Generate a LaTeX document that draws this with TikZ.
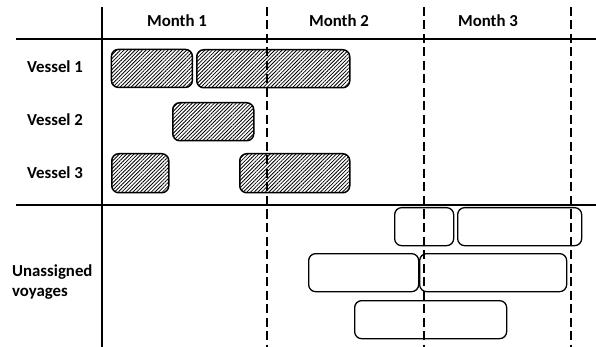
\documentclass[tikz,border=0pt]{standalone}
\usepackage{fontspec}
\setmainfont{Carlito}
\usetikzlibrary{patterns.meta}
\begin{document}
\begin{tikzpicture}[x=1pt,y=-1pt,
  lbl/.style={font=\fontsize{16.8}{19}\selectfont\bfseries, inner sep=0pt},
  vbox/.style={draw, line width=1.5pt, rounded corners=7pt, anchor=north west, inner sep=0pt,
    pattern={Lines[angle=45,distance=2.6pt,line width=0.8pt]}},
  ubox/.style={draw, line width=1.3pt, rounded corners=7pt, anchor=north west, inner sep=0pt},
  grid/.style={line width=1.8pt},
  dgrid/.style={line width=1.1pt, dash pattern=on 9pt off 4.5pt}]
\useasboundingbox (0,0) rectangle (596,347);
% header labels
\node[lbl] (m1) at (177,21) {Month 1};
\node[lbl] (m2) at (339,21) {Month 2};
\node[lbl] (m3) at (488,21) {Month 3};
% row labels
\node[lbl] (r1) at (55,67) {Vessel 1};
\node[lbl] (r2) at (55,120) {Vessel 2};
\node[lbl] (r3) at (55,173) {Vessel 3};
\node[lbl, align=left, anchor=west] (r4) at (12,282) {Unassigned\\[1pt]voyages};
% assigned voyages (hatched)
\node[vbox, minimum width=81pt, minimum height=38pt] (v1a) at (111,49) {};
\node[vbox, minimum width=153pt, minimum height=38pt] (v1b) at (196,49) {};
\node[vbox, minimum width=81pt, minimum height=38pt] (v2a) at (172,102) {};
\node[vbox, minimum width=57pt, minimum height=39pt] (v3a) at (111,153) {};
\node[vbox, minimum width=110pt, minimum height=39pt] (v3b) at (239,153) {};
% unassigned voyages
\node[ubox, minimum width=59pt, minimum height=38pt] (u1a) at (394,207) {};
\node[ubox, minimum width=124pt, minimum height=38pt] (u1b) at (457,207) {};
\node[ubox, minimum width=110pt, minimum height=38pt] (u2a) at (308,253) {};
\node[ubox, minimum width=147pt, minimum height=38pt] (u2b) at (419,253) {};
\node[ubox, minimum width=152pt, minimum height=38pt] (u3a) at (354,300) {};
% grid lines
\coordinate (hl1) at (16,39);  \coordinate (hr1) at (596,39);
\coordinate (hl2) at (16,205); \coordinate (hr2) at (596,205);
\coordinate (vt) at (102,7);   \coordinate (vb) at (102,347);
\coordinate (d1t) at (267,7);  \coordinate (d1b) at (267,347);
\coordinate (d2t) at (424,7);  \coordinate (d2b) at (424,347);
\coordinate (d3t) at (571,7);  \coordinate (d3b) at (571,347);
\draw[grid] (hl1) -- (hr1);
\draw[grid] (hl2) -- (hr2);
\draw[grid] (vt) -- (vb);
\draw[dgrid] (d1t) -- (d1b);
\draw[dgrid] (d2t) -- (d2b);
\draw[dgrid] (d3t) -- (d3b);
\end{tikzpicture}
\end{document}
